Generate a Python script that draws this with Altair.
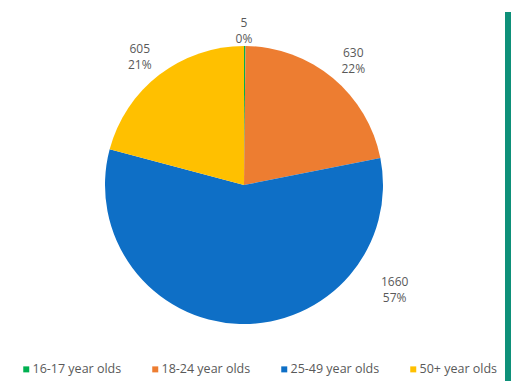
import math
import altair as alt
import pandas as pd

categories = ["16-17 year olds", "18-24 year olds", "25-49 year olds", "50+ year olds"]
counts = [5, 630, 1660, 605]
percent_labels = ["0%", "22%", "57%", "21%"]
colors = ["#00B050", "#ED7D31", "#0E6FC6", "#FFC000"]

df = pd.DataFrame({
    "group": categories,
    "count": counts,
    "pct": percent_labels,
    "order": list(range(len(categories))),
})
df["label"] = df["count"].astype(str) + "\n" + df["pct"]
df["label_main"] = [l if g in ("18-24 year olds", "50+ year olds") else "" for g, l in zip(df["group"], df["label"])]

W, H = 503, 350
CX, CY, R = 236, 173, 139
FONT = "Open Sans"
TXT = "#595959"

base = alt.Chart(df).encode(
    theta=alt.Theta("count:Q", stack=True),
    order=alt.Order("order:Q"),
)

pie = base.mark_arc(outerRadius=R).encode(
    x=alt.value(CX),
    y=alt.value(CY),
    color=alt.Color(
        "group:N",
        scale=alt.Scale(domain=categories, range=colors),
        legend=alt.Legend(
            title=None,
            orient="none",
            legendX=12,
            legendY=351,
            direction="horizontal",
            columns=4,
            columnPadding=27,
            symbolType="square",
            symbolSize=36,
            symbolStrokeWidth=0,
            labelFont=FONT,
            labelFontSize=12.5,
            labelColor=TXT,
            labelOffset=0,
        ),
    ),
)

labels_main = base.mark_text(
    radius=171, font=FONT, fontSize=12, color=TXT, lineBreak="\n", lineHeight=16, baseline="middle"
).encode(x=alt.value(CX), y=alt.value(CY), text="label_main:N")

label_green = alt.Chart(df).transform_filter(alt.datum.group == "16-17 year olds").mark_text(
    radius=162, theta=0.0, font=FONT, fontSize=12, color=TXT, lineBreak="\n", lineHeight=16, baseline="middle"
).encode(x=alt.value(CX), y=alt.value(CY), text="label:N")

label_blue = alt.Chart(df).transform_filter(alt.datum.group == "25-49 year olds").mark_text(
    radius=179, theta=122.7 * math.pi / 180, font=FONT, fontSize=12, color=TXT, lineBreak="\n", lineHeight=16,
    baseline="middle"
).encode(x=alt.value(CX), y=alt.value(CY), text="label:N")

bar = alt.Chart(pd.DataFrame({"a": [0]})).mark_rect(color="#0E9079").encode(
    x=alt.value(W - 6), x2=alt.value(W), y=alt.value(0), y2=alt.value(369)
)

chart = alt.layer(pie, labels_main, label_green, label_blue, bar).properties(
    width=W, height=H, padding=0
).configure_view(stroke=None)

chart.save("out.html", embed_options={"renderer": "svg", "actions": False})
